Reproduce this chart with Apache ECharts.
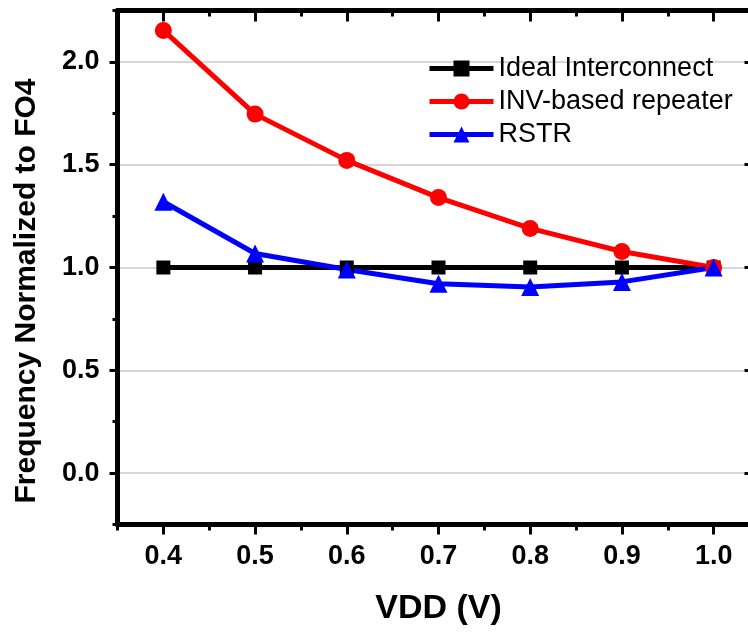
<!DOCTYPE html>
<html>
	<head>
		<meta charset="UTF-8">
		<title></title>
		<script src="https://cdn.jsdelivr.net/npm/echarts@6/dist/echarts.min.js" type="text/javascript" charset="utf-8"></script>
		<style>
			html, body { margin: 0; padding: 0; background: #fff; }
		</style>
	</head>
	<body>
		<div id="chart" style="height: 633px;width: 748px;"></div>
		<script type="text/javascript">
			// 数据
			var vdd = [0.4, 0.5, 0.6, 0.7, 0.8, 0.9, 1.0];
			var ideal = [1.0, 1.0, 1.0, 1.0, 1.0, 1.0, 1.0];
			var inv = [2.153, 1.746, 1.521, 1.340, 1.190, 1.078, 1.0];
			var rstr = [1.320, 1.068, 0.990, 0.921, 0.905, 0.930, 1.0];
			var xMajor = [0.4, 0.5, 0.6, 0.7, 0.8, 0.9, 1.0];
			var xMinor = [0.35, 0.45, 0.55, 0.65, 0.75, 0.85, 0.95, 1.05];
			var yMajor = [0, 0.5, 1.0, 1.5, 2.0];
			var yMinor = [-0.25, 0.25, 0.75, 1.25, 1.75, 2.25];

			var font = '"Liberation Sans", Arial, sans-serif';

			function pairs(ys) {
				return vdd.map(function (x, i) { return [x, ys[i]]; });
			}

			// 坐标轴（主刻度 / 次刻度）
			function xAx(pos, ticks, len, inside, withLine, withLabel) {
				return {
					type: 'value', position: pos, offset: 0, min: 0.35, max: 1.05,
					axisLine: {show: withLine, onZero: false, lineStyle: {color: '#000', width: 5}},
					axisTick: {show: true, inside: inside, length: len, customValues: ticks,
						lineStyle: {color: '#000', width: 3}},
					axisLabel: withLabel ? {show: true, customValues: xMajor, margin: 19,
						formatter: function (v) { return v.toFixed(1); },
						color: '#000', fontSize: 27, fontWeight: 'bold', fontFamily: font} : {show: false},
					splitLine: {show: false}
				};
			}
			function yAx(pos, ticks, len, inside, withLine, withLabel) {
				return {
					type: 'value', position: pos, offset: 0, min: -0.25, max: 2.25, splitNumber: 5,
					axisLine: {show: withLine, onZero: false, lineStyle: {color: '#000', width: 5}},
					axisTick: {show: true, inside: inside, length: len, customValues: ticks,
						lineStyle: {color: '#000', width: 3}},
					axisLabel: withLabel ? {show: true, customValues: yMajor, margin: 18,
						formatter: function (v) { return v.toFixed(1); },
						color: '#000', fontSize: 27, fontWeight: 'bold', fontFamily: font} : {show: false},
					splitLine: {show: false}
				};
			}

			var xAxes = [
				xAx('bottom', xMajor, 10, false, true, true),
				xAx('bottom', xMinor, 6, false, false, false),
				xAx('top', xMajor, 11, true, true, false),
				xAx('top', xMinor, 6, true, false, false)
			];
			xAxes[0].name = 'VDD (V)';
			xAxes[0].nameLocation = 'middle';
			xAxes[0].nameGap = 67;
			xAxes[0].nameTextStyle = {color: '#000', fontSize: 34, fontWeight: 'bold', fontFamily: font};

			var yAxes = [
				yAx('left', yMajor, 8, false, true, true),
				yAx('left', yMinor, 5, false, false, false),
				yAx('right', yMajor, 15, true, true, false),
				yAx('right', yMinor, 8, true, false, false)
			];
			yAxes[0].name = 'Frequency Normalized to FO4';
			yAxes[0].nameLocation = 'middle';
			yAxes[0].nameRotate = 90;
			yAxes[0].nameGap = 76;
			yAxes[0].nameTextStyle = {color: '#000', fontSize: 30, fontWeight: 'bold', fontFamily: font,
				padding: [0, 47, 0, 0]};
			yAxes[0].splitLine = {show: true, lineStyle: {color: '#c8c8c8', width: 1.5}};

			var chart = echarts.init(document.getElementById('chart'), null, {renderer: 'canvas'});
			var option = {
				animation: false,
				backgroundColor: '#fff',
				grid: {left: 117.5, right: -11.5, top: 10.5, bottom: 108.5, containLabel: false, outerBoundsMode: 'none'},
				legend: {
					orient: 'vertical', left: 427, top: 55, padding: 0, itemGap: 6,
					itemWidth: 64, itemHeight: 20,
					lineStyle: {width: 5},
					textStyle: {color: '#000', fontSize: 27, fontFamily: font},
					data: ['Ideal Interconnect', 'INV-based repeater', 'RSTR']
				},
				xAxis: xAxes,
				yAxis: yAxes,
				series: [
					{
						name: 'Ideal Interconnect', type: 'line', data: pairs(ideal),
						symbol: 'rect', symbolSize: 14,
						itemStyle: {color: '#000'}, lineStyle: {color: '#000', width: 5}
					},
					{
						name: 'INV-based repeater', type: 'line', data: pairs(inv),
						symbol: 'circle', symbolSize: 17,
						itemStyle: {color: '#ff0000'}, lineStyle: {color: '#ff0000', width: 5}
					},
					{
						name: 'RSTR', type: 'line', data: pairs(rstr),
						symbol: 'triangle', symbolSize: 18,
						itemStyle: {color: '#0000ff'}, lineStyle: {color: '#0000ff', width: 5}
					}
				]
			};
			chart.setOption(option, true);
		</script>
	</body>
</html>
